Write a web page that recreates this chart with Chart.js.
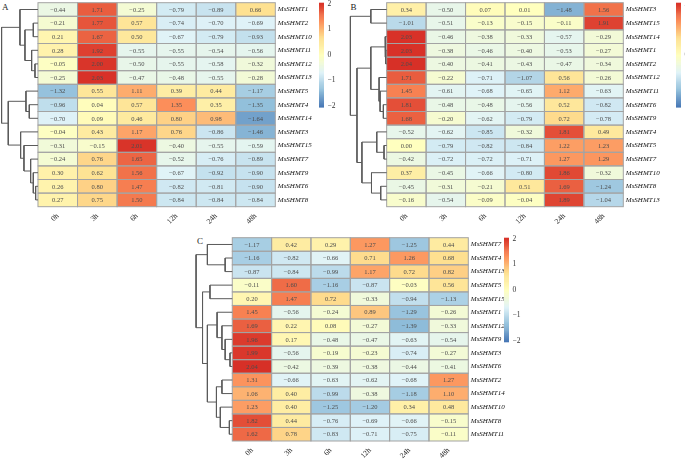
<!DOCTYPE html>
<html><head><meta charset="utf-8">
<script src="https://cdn.jsdelivr.net/npm/chart.js@4"></script>
<style>
html,body{margin:0;padding:0;background:#fff;}
body{width:685px;height:460px;overflow:hidden;position:relative;}
canvas{position:absolute;}
.lt{position:absolute;font-family:"Liberation Serif",serif;font-size:9px;line-height:9px;color:#222;}
</style></head><body>
<div class="lt" style="left:2px;top:2.5px">A</div>
<div class="lt" style="left:350.5px;top:2.5px">B</div>
<div class="lt" style="left:197px;top:236.8px">C</div>
<canvas id="cA" width="318" height="232" style="left:0px;top:0px;width:318px;height:232px"></canvas>
<canvas id="lA" width="30" height="112" style="left:319px;top:0px;width:30px;height:112px"></canvas>
<canvas id="cB" width="330" height="232" style="left:345px;top:0px;width:330px;height:232px"></canvas>
<canvas id="lB" width="9" height="112" style="left:676px;top:0px;width:9px;height:112px"></canvas>
<canvas id="cC" width="330" height="230" style="left:190px;top:230px;width:330px;height:230px"></canvas>
<canvas id="lC" width="30" height="120" style="left:504px;top:230px;width:30px;height:120px"></canvas>
<script>
// ---------------- data ----------------
const timeLabels = ['0h', '3h', '6h', '12h', '24h', '48h'];
const legendTicks = [2, 1, 0, -1, -2];

const rowsA = ['MsSHMT1','MsSHMT2','MsSHMT10','MsSHMT11','MsSHMT12','MsSHMT13','MsSHMT5','MsSHMT4','MsSHMT14','MsSHMT3','MsSHMT15','MsSHMT7','MsSHMT9','MsSHMT6','MsSHMT8'];
const valuesA = [
  [-0.44, 1.71, -0.25, -0.79, -0.89, 0.66],
  [-0.21, 1.77, 0.57, -0.74, -0.70, -0.69],
  [0.21, 1.67, 0.50, -0.67, -0.79, -0.93],
  [0.28, 1.92, -0.55, -0.55, -0.54, -0.56],
  [-0.05, 2.00, -0.50, -0.55, -0.58, -0.32],
  [-0.25, 2.03, -0.47, -0.48, -0.55, -0.28],
  [-1.32, 0.55, 1.11, 0.39, 0.44, -1.17],
  [-0.96, 0.04, 0.57, 1.35, 0.35, -1.35],
  [-0.70, 0.09, 0.46, 0.80, 0.98, -1.64],
  [-0.04, 0.43, 1.17, 0.76, -0.86, -1.46],
  [-0.31, -0.15, 2.01, -0.40, -0.55, -0.59],
  [-0.24, 0.76, 1.65, -0.52, -0.76, -0.89],
  [0.30, 0.62, 1.56, -0.67, -0.92, -0.90],
  [0.26, 0.80, 1.47, -0.82, -0.81, -0.90],
  [0.27, 0.75, 1.50, -0.84, -0.84, -0.84]
];
// linkage: [childA, childB, height]; leaves 0..14, merge k -> node 15+k
const linkA = [
  [1, 2, 14], [4, 5, 9], [3, 16, 19], [15, 17, 39], [0, 18, 54],
  [7, 8, 26], [6, 20, 36],
  [13, 14, 7], [12, 22, 14], [11, 23, 22], [10, 24, 42], [9, 25, 52],
  [21, 26, 89], [19, 27, 109]
];

const rowsB = ['MsSHMT3','MsSHMT15','MsSHMT14','MsSHMT1','MsSHMT2','MsSHMT12','MsSHMT11','MsSHMT6','MsSHMT9','MsSHMT4','MsSHMT5','MsSHMT7','MsSHMT10','MsSHMT8','MsSHMT13'];
const valuesB = [
  [0.34, -0.50, 0.07, 0.01, -1.48, 1.56],
  [-1.01, -0.51, -0.13, -0.15, -0.11, 1.91],
  [2.03, -0.46, -0.38, -0.33, -0.57, -0.29],
  [2.03, -0.38, -0.46, -0.40, -0.53, -0.27],
  [2.04, -0.40, -0.41, -0.43, -0.47, -0.34],
  [1.71, -0.22, -0.71, -1.07, 0.56, -0.26],
  [1.45, -0.61, -0.68, -0.65, 1.12, -0.63],
  [1.81, -0.48, -0.48, -0.56, 0.52, -0.82],
  [1.68, -0.20, -0.62, -0.79, 0.72, -0.78],
  [-0.52, -0.62, -0.85, -0.32, 1.81, 0.49],
  [0.00, -0.79, -0.82, -0.84, 1.22, 1.23],
  [-0.42, -0.72, -0.72, -0.71, 1.27, 1.29],
  [0.37, -0.45, -0.66, -0.80, 1.86, -0.32],
  [-0.45, -0.31, -0.21, 0.51, 1.69, -1.24],
  [-0.16, -0.54, -0.09, -0.04, 1.89, -1.04]
];
const linkB = [
  [0, 1, 48],
  [3, 4, 3], [2, 16, 5],
  [7, 8, 10], [6, 18, 20], [5, 19, 23], [17, 20, 48],
  [10, 11, 8], [9, 22, 30], [13, 14, 18], [12, 24, 46], [23, 25, 75],
  [21, 26, 90], [15, 27, 110]
];

const rowsC = ['MsSHMT7','MsSHMT4','MsSHMT13','MsSHMT5','MsSHMT15','MsSHMT1','MsSHMT12','MsSHMT9','MsSHMT3','MsSHMT6','MsSHMT2','MsSHMT14','MsSHMT10','MsSHMT8','MsSHMT11'];
const valuesC = [
  [-1.17, 0.42, 0.29, 1.27, -1.25, 0.44],
  [-1.16, -0.82, -0.66, 0.71, 1.26, 0.68],
  [-0.87, -0.84, -0.99, 1.17, 0.72, 0.82],
  [-0.11, 1.60, -1.16, -0.87, -0.03, 0.56],
  [0.20, 1.47, 0.72, -0.33, -0.94, -1.13],
  [1.45, -0.56, -0.24, 0.89, -1.29, -0.26],
  [1.69, 0.22, 0.08, -0.27, -1.39, -0.33],
  [1.96, 0.17, -0.48, -0.47, -0.63, -0.54],
  [1.99, -0.56, -0.19, -0.23, -0.74, -0.27],
  [2.04, -0.42, -0.39, -0.38, -0.44, -0.41],
  [1.31, -0.66, -0.63, -0.62, -0.68, 1.27],
  [1.06, 0.40, -0.99, -0.38, -1.18, 1.10],
  [1.23, 0.40, -1.25, -1.20, 0.34, 0.48],
  [1.82, 0.44, -0.76, -0.69, -0.66, -0.15],
  [1.62, 0.78, -0.83, -0.71, -0.75, -0.11]
];
const linkC = [
  [1, 2, 22], [0, 15, 77],
  [3, 4, 69],
  [8, 9, 7], [7, 18, 22], [6, 19, 32], [5, 20, 47],
  [10, 11, 32], [13, 14, 9], [12, 23, 37], [22, 24, 49],
  [21, 25, 77], [17, 26, 92], [16, 27, 112]
];

// ---------------- styling ----------------
const FONT = '"Liberation Serif", "Times New Roman", serif';
const palette = ['#4575B4', '#91BFDB', '#E0F3F8', '#FFFFBF', '#FEE090', '#FC8D59', '#D73027'];
const RANGE = 2.04;
const fmt = v => (v < 0 ? '\u2212' : '') + Math.abs(v).toFixed(2);
const fmtInt = v => (v < 0 ? '\u2212' : '') + Math.abs(v);

function hexToRgb(h) { return [1, 3, 5].map(i => parseInt(h.substr(i, 2), 16)); }
const palRgb = palette.map(hexToRgb);
function colorFor(v) {
  let t = (v + RANGE) / (2 * RANGE);
  t = Math.max(0, Math.min(1, t));
  const p = t * (palRgb.length - 1);
  const i = Math.min(palRgb.length - 2, Math.floor(p));
  const f = p - i;
  const c = palRgb[i].map((a, k) => Math.round(a + (palRgb[i + 1][k] - a) * f));
  return 'rgb(' + c.join(',') + ')';
}

function heatPlugin(values) {
  return {
    id: 'heat',
    beforeDatasetsDraw(chart) {
      const { ctx, scales: { x, y } } = chart;
      ctx.save();
      values.forEach((row, i) => row.forEach((v, j) => {
        const x0 = x.getPixelForValue(j), x1 = x.getPixelForValue(j + 1);
        const y0 = y.getPixelForValue(i), y1 = y.getPixelForValue(i + 1);
        ctx.fillStyle = colorFor(v);
        ctx.fillRect(x0, y0, x1 - x0, y1 - y0);
      }));
      ctx.strokeStyle = '#a3a3a3';
      ctx.lineWidth = 1;
      values.forEach((row, i) => row.forEach((v, j) => {
        const x0 = x.getPixelForValue(j), x1 = x.getPixelForValue(j + 1);
        const y0 = y.getPixelForValue(i), y1 = y.getPixelForValue(i + 1);
        ctx.strokeRect(x0, y0, x1 - x0, y1 - y0);
      }));
      ctx.font = '6.5px ' + FONT;
      ctx.fillStyle = '#4d4d4d';
      ctx.textAlign = 'center';
      ctx.textBaseline = 'middle';
      values.forEach((row, i) => row.forEach((v, j) => {
        ctx.fillText(fmt(v), x.getPixelForValue(j + 0.5), y.getPixelForValue(i + 0.5) + 0.5);
      }));
      ctx.restore();
    }
  };
}

function dendroDatasets(links, n) {
  const maxH = links[links.length - 1][2];
  const k = 0.92 / maxH;
  const pos = [], hgt = [];
  for (let i = 0; i < n; i++) { pos[i] = i + 0.5; hgt[i] = 0; }
  const ds = [];
  links.forEach(([a, b, h], m) => {
    const id = n + m;
    pos[id] = (pos[a] + pos[b]) / 2;
    hgt[id] = h;
    ds.push({
      data: [
        { x: -hgt[a] * k, y: pos[a] }, { x: -h * k, y: pos[a] },
        { x: -h * k, y: pos[b] }, { x: -hgt[b] * k, y: pos[b] }
      ],
      showLine: true, pointRadius: 0, borderColor: '#5a5a5a', borderWidth: 1,
      tension: 0, fill: false, clip: false
    });
  });
  return ds;
}

function heatChart(id, rows, values, links, pad, yw, xh) {
  new Chart(document.getElementById(id), {
    type: 'scatter',
    data: { datasets: dendroDatasets(links, rows.length) },
    options: {
      responsive: false, animation: false,
      layout: { padding: { left: pad.left, top: pad.top, right: 0, bottom: 0 } },
      plugins: { legend: { display: false }, tooltip: { enabled: false } },
      scales: {
        x: {
          type: 'linear', min: -0.95, max: timeLabels.length, position: 'bottom',
          grid: { display: false, drawTicks: false }, border: { display: false },
          afterBuildTicks: s => { s.ticks = timeLabels.map((_, j) => ({ value: j + 0.5 })); },
          afterFit: s => { s.height = xh; s.paddingLeft = 0; s.paddingRight = 0; },
          ticks: {
            autoSkip: false, minRotation: 45, maxRotation: 45, padding: 5,
            font: { family: FONT, size: 7.5 }, color: '#222',
            callback: (v, i) => timeLabels[i]
          }
        },
        y: {
          type: 'linear', min: 0, max: rows.length, reverse: true, position: 'right',
          grid: { display: false, drawTicks: false }, border: { display: false },
          afterBuildTicks: s => { s.ticks = rows.map((_, i) => ({ value: i + 0.5 })); },
          afterFit: s => { s.width = yw; s.paddingTop = 0; s.paddingBottom = 0; },
          ticks: {
            autoSkip: false, padding: 2.5,
            font: { family: FONT, size: 7, style: 'italic' }, color: '#111',
            callback: (v, i) => rows[i]
          }
        }
      }
    },
    plugins: [heatPlugin(values)]
  });
}

const gradPlugin = {
  id: 'grad',
  beforeDatasetsDraw(chart) {
    const { ctx, chartArea: a, scales: { y } } = chart;
    const N = 100;
    ctx.save();
    for (let i = 0; i < N; i++) {
      const v0 = -RANGE + (2 * RANGE) * i / N, v1 = -RANGE + (2 * RANGE) * (i + 1) / N;
      const p0 = y.getPixelForValue(v0), p1 = y.getPixelForValue(v1);
      ctx.fillStyle = colorFor((v0 + v1) / 2);
      ctx.fillRect(a.left, p1, a.right - a.left, p0 - p1 + 0.6);
    }
    ctx.restore();
  }
};

function legendChart(id, top, bottom, yw) {
  new Chart(document.getElementById(id), {
    type: 'scatter',
    data: { datasets: [] },
    options: {
      responsive: false, animation: false,
      layout: { padding: { left: 0, top: top, right: 0, bottom: bottom } },
      plugins: { legend: { display: false }, tooltip: { enabled: false } },
      scales: {
        x: { display: false, min: 0, max: 1 },
        y: {
          type: 'linear', min: -RANGE, max: RANGE, position: 'right',
          grid: { display: false, drawTicks: false }, border: { display: false },
          afterBuildTicks: s => { s.ticks = legendTicks.map(v => ({ value: v })); },
          afterFit: s => { s.width = yw; s.paddingTop = 0; s.paddingBottom = 0; },
          ticks: { padding: 3.5, font: { family: FONT, size: 7.5 }, color: '#333', callback: v => fmtInt(v) }
        }
      }
    },
    plugins: [gradPlugin]
  });
}

heatChart('cA', rowsA, valuesA, linkA, { left: 0.4, top: 2.7 }, 318 - 275.3, 232 - 206.7);
heatChart('cB', rowsB, valuesB, linkB, { left: 4.2, top: 2.7 }, 330 - (623.3 - 345), 232 - 206.7);
heatChart('cC', rowsC, valuesC, linkC, { left: 4.9, top: 7.7 }, 330 - (468.3 - 190), 230 - (441 - 230));
legendChart('lA', 2.7, 112 - 107, 25);
legendChart('lB', 2.7, 112 - 107, 4);
legendChart('lC', 7.7, 120 - 111.7, 25);
</script>
</body></html>
